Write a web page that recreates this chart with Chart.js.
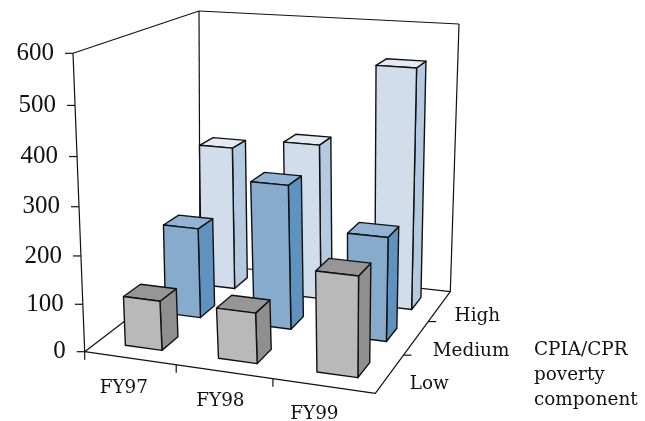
<!DOCTYPE html>
<html><head><meta charset="utf-8">
<style>html,body{margin:0;padding:0;background:#fff}canvas{display:block}</style>
<script src="https://cdn.jsdelivr.net/npm/chart.js@4"></script>
</head><body><canvas id="c" width="645" height="421"></canvas>
<script>
const categories = ['FY97','FY98','FY99'];
const depthLabels = ['Low','Medium','High'];
const lowValues = [104,105,206];
const mediumValues = [197,310,222];
const highValues = [325,348,528];
const yMax = 600, yStep = 100;
const axisTitleLines = ['CPIA/CPR','poverty','component'];

const FONT = '"DejaVu Serif", serif';
const TICK_FONT = '25px "Liberation Serif", serif';
const X_LABEL_NUDGE = [[-6,30],[-3.5,30],[-9,28]];
const Z_LABEL_NUDGE = [[20,11],[16.5,13],[15,10]];
const BAR_STRETCH = [1.0155,0.001];
const COLORS = [
 {front:'#b9b9b9',side:'#8f8f8f',top:'#969696'},
 {front:'#86abcd',side:'#5f92bf',top:'#92b3d3'},
 {front:'#d2ddec',side:'#b5c9e0',top:'#e4ebf4'}
];
// camera: corners of the plot box (floor and ceiling) and vertical foreshortening
const CAM = {
  floor:[[84.7,351.7],[375.3,393.3],[450.3,291.7],[200,263.5]],
  ceil:[[73,53.3],[381,80],[459,24],[199,11]],
  kappa:0.945
};
function quadMap(q){
  const [x0,y0]=q[0],[x1,y1]=q[1],[x2,y2]=q[2],[x3,y3]=q[3];
  const dx1=x1-x2,dx2=x3-x2,sx=x0-x1+x2-x3,dy1=y1-y2,dy2=y3-y2,sy=y0-y1+y2-y3;
  const den=dx1*dy2-dx2*dy1;
  const g=(sx*dy2-dx2*sy)/den,h=(dx1*sy-sx*dy1)/den;
  const a=x1-x0+g*x1,b=x3-x0+h*x3,d=y1-y0+g*y1,e=y3-y0+h*y3;
  return (u,w)=>{const z=g*u+h*w+1;return [(a*u+b*w+x0)/z,(d*u+e*w+y0)/z];};
}
const floorMap=quadMap(CAM.floor), ceilMap=quadMap(CAM.ceil);
function project(u,v,w){
  const F=floorMap(u,w),T=ceilMap(u,w),k=v*CAM.kappa,n=(1-v)+k;
  return [((1-v)*F[0]+k*T[0])/n,((1-v)*F[1]+k*T[1])/n];
}

function poly(ctx,pts,fill){
  ctx.beginPath();
  pts.forEach((p,i)=>i?ctx.lineTo(p[0],p[1]):ctx.moveTo(p[0],p[1]));
  ctx.closePath();
  if(fill){ctx.fillStyle=fill;ctx.fill();}
  ctx.stroke();
}
function seg(ctx,a,b){ctx.beginPath();ctx.moveTo(a[0],a[1]);ctx.lineTo(b[0],b[1]);ctx.stroke();}

const scene3d = {
  id:'scene3d',
  beforeDatasetsDraw(chart){
    const ctx=chart.ctx, xs=chart.scales.x, ys=chart.scales.y, area=chart.chartArea;
    const U=px=>(px-area.left)/area.width;
    const V=val=>(area.bottom-ys.getPixelForValue(val))/area.height;
    const nz=chart.data.datasets.length;
    ctx.save();
    ctx.strokeStyle='#111'; ctx.lineJoin='round'; ctx.lineWidth=1.2;
    // walls and floor
    poly(ctx,[project(0,0,0),project(1,0,0),project(1,0,1),project(0,0,1)]);
    seg(ctx,project(0,0,0),project(0,1,0));
    seg(ctx,project(0,1,0),project(0,1,1));
    seg(ctx,project(0,1,1),project(1,1,1));
    seg(ctx,project(0,0,1),project(0,1,1));
    seg(ctx,project(1,0,1),project(1,1,1));
    // y ticks and labels
    ctx.fillStyle='#111'; ctx.textBaseline='middle';
    ys.ticks.forEach(t=>{
      const p=project(0,V(t.value),0);
      seg(ctx,p,[p[0]-8,p[1]]);
      ctx.font=TICK_FONT; ctx.textAlign='right';
      ctx.fillText(String(t.value),p[0]-19,p[1]);
    });
    // x ticks and labels
    ctx.font='18.4px '+FONT; ctx.textAlign='center';
    categories.forEach((lab,i)=>{
      const edge=project(U(xs.getPixelForValue(i))-0.5/categories.length,0,0);
      seg(ctx,edge,[edge[0],edge[1]+8]);
      const p=project(U(xs.getPixelForValue(i)),0,0);
      ctx.fillText(lab,p[0]+X_LABEL_NUDGE[i][0],p[1]+X_LABEL_NUDGE[i][1]);
    });
    // depth ticks and labels
    ctx.textAlign='left';
    depthLabels.forEach((lab,j)=>{
      if(j>0){const e=project(1,0,j/nz);seg(ctx,e,[e[0]+8,e[1]]);}
      const p=project(1,0,(j+0.5)/nz);
      ctx.fillText(lab,p[0]+Z_LABEL_NUDGE[j][0],p[1]+Z_LABEL_NUDGE[j][1]);
    });
    axisTitleLines.forEach((t,i)=>ctx.fillText(t,534,350+i*25));
    // bars, back to front
    ctx.lineWidth=1.4;
    const warp=u=>u*BAR_STRETCH[0]+BAR_STRETCH[1];
    for(let j=nz-1;j>=0;j--){
      const meta=chart.getDatasetMeta(j), c=COLORS[j];
      const z0=(j+0.3)/nz, z1=(j+0.7)/nz;
      meta.data.forEach(el=>{
        const a=warp(U(el.x-el.width/2)), b=warp(U(el.x+el.width/2)), t=(area.bottom-el.y)/area.height;
        poly(ctx,[project(b,0,z0),project(b,0,z1),project(b,t,z1),project(b,t,z0)],c.side);
        poly(ctx,[project(a,t,z0),project(b,t,z0),project(b,t,z1),project(a,t,z1)],c.top);
        poly(ctx,[project(a,0,z0),project(b,0,z0),project(b,t,z0),project(a,t,z0)],c.front);
      });
    }
    ctx.restore();
    return false;
  }
};

new Chart(document.getElementById('c'),{
  type:'bar',
  data:{labels:categories,datasets:[
    {label:depthLabels[0],data:lowValues},
    {label:depthLabels[1],data:mediumValues},
    {label:depthLabels[2],data:highValues}
  ]},
  options:{
    responsive:false,animation:false,devicePixelRatio:1,
    layout:{padding:0},
    datasets:{bar:{grouped:false,barPercentage:0.4,categoryPercentage:1}},
    plugins:{legend:{display:false},tooltip:{enabled:false}},
    scales:{
      x:{display:false,offset:true},
      y:{display:false,min:0,max:yMax,ticks:{stepSize:yStep}}
    }
  },
  plugins:[scene3d]
});
</script></body></html>
